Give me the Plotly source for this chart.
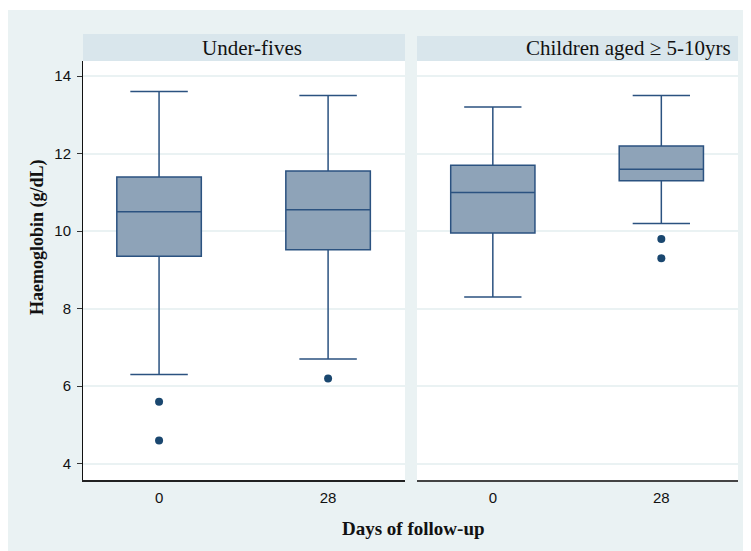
import plotly.graph_objects as go

W, H = 743, 543
OX, OY = 8, 8  # page offset of the figure in the browser window

# ---- data ----
days = ["0", "28"]
panels = ["Under-fives", "Children aged \u2265 5-10yrs"]

u5_lower = [6.3, 6.7]
u5_q1 = [9.35, 9.52]
u5_median = [10.5, 10.55]
u5_q3 = [11.4, 11.55]
u5_upper = [13.6, 13.5]
u5_out_x = ["0", "0", "28"]
u5_out_y = [5.6, 4.6, 6.2]

ch_lower = [8.3, 10.2]
ch_q1 = [9.95, 11.3]
ch_median = [11.0, 11.6]
ch_q3 = [11.7, 12.2]
ch_upper = [13.2, 13.5]
ch_out_x = ["28", "28"]
ch_out_y = [9.8, 9.3]

y_ticks = [4, 6, 8, 10, 12, 14]

# ---- style ----
BG = "#eaf2f3"
STRIP = "#d9e6ec"
FILL = "#8ea3b8"
LINE = "#2b5280"
DOT = "#1a476f"
SERIF = "Liberation Serif, Times New Roman, serif"
SANS = "Liberation Sans, Arial, sans-serif"


def px(x):
    return (x - OX) / W


def py(y):
    return 1 - (y - OY) / H


fig = go.Figure()

for (lo, q1, me, q3, up, ox, oy, xa, ya) in [
    (u5_lower, u5_q1, u5_median, u5_q3, u5_upper, u5_out_x, u5_out_y, "x", "y"),
    (ch_lower, ch_q1, ch_median, ch_q3, ch_upper, ch_out_x, ch_out_y, "x2", "y2"),
]:
    fig.add_trace(go.Box(
        x=days, q1=q1, median=me, q3=q3, lowerfence=lo, upperfence=up,
        fillcolor=FILL, line=dict(color=LINE, width=1.5),
        width=0.5, whiskerwidth=0.68, boxpoints=False,
        xaxis=xa, yaxis=ya, showlegend=False,
    ))
    fig.add_trace(go.Scatter(
        x=ox, y=oy, mode="markers",
        marker=dict(color=DOT, size=8),
        xaxis=xa, yaxis=ya, showlegend=False,
    ))

x1d = [px(83), px(405)]
x2d = [px(417), px(738)]
yd = [py(480), py(61)]
yrange = [3.58, 14.39]
xrange = [-0.45, 1.455]

common_x = dict(type="category", range=xrange, showgrid=False, zeroline=False,
                showline=True, linewidth=1.5, ticks="",
                tickfont=dict(family=SANS, size=15, color="#111"),
                ticklabelstandoff=3)
common_y = dict(range=yrange, tickvals=y_ticks, showgrid=True, gridcolor=BG,
                gridwidth=1.5, zeroline=False)

fig.update_layout(
    width=W, height=H,
    margin=dict(l=0, r=0, t=0, b=0),
    paper_bgcolor=BG, plot_bgcolor="white",
    xaxis=dict(domain=x1d, anchor="y", linecolor="#222", **common_x),
    xaxis2=dict(domain=x2d, anchor="y2", linecolor="#444", **common_x),
    yaxis=dict(domain=yd, anchor="x", showline=True, linecolor="#111", linewidth=1,
               ticks="outside", ticklen=5, tickcolor="#333",
               tickfont=dict(family=SANS, size=15, color="#111"),
               ticklabelstandoff=3, **common_y),
    yaxis2=dict(domain=yd, anchor="x2", matches="y", showline=False,
                showticklabels=False, ticks="", **common_y),
    shapes=[
        dict(type="rect", xref="paper", yref="paper", x0=0, x1=1, y0=py(10), y1=1,
             fillcolor="white", line=dict(width=0), layer="below"),
        dict(type="rect", xref="paper", yref="paper", x0=x1d[0], x1=x1d[1],
             y0=py(61), y1=py(34), fillcolor=STRIP, line=dict(width=0), layer="below"),
        dict(type="rect", xref="paper", yref="paper", x0=x2d[0], x1=x2d[1],
             y0=py(61), y1=py(36), fillcolor=STRIP, line=dict(width=0), layer="below"),
    ],
    annotations=[
        dict(text=panels[0], xref="paper", yref="paper", x=px(252), y=py(48),
             xanchor="center", yanchor="middle", showarrow=False,
             font=dict(family=SERIF, size=21, color="#111")),
        dict(text=panels[1], xref="paper", yref="paper", x=px(733), y=py(48),
             xanchor="right", yanchor="middle", showarrow=False,
             font=dict(family=SERIF, size=21, color="#111")),
        dict(text="<b>Haemoglobin (g/dL)</b>", xref="paper", yref="paper",
             x=px(38), y=py(237), xanchor="center", yanchor="middle",
             textangle=-90, showarrow=False,
             font=dict(family=SERIF, size=18, color="#111")),
        dict(text="<b>Days of follow-up</b>", xref="paper", yref="paper",
             x=px(413), y=py(528), xanchor="center", yanchor="middle",
             showarrow=False, font=dict(family=SERIF, size=19, color="#111")),
    ],
)

fig.write_html("out.html")
